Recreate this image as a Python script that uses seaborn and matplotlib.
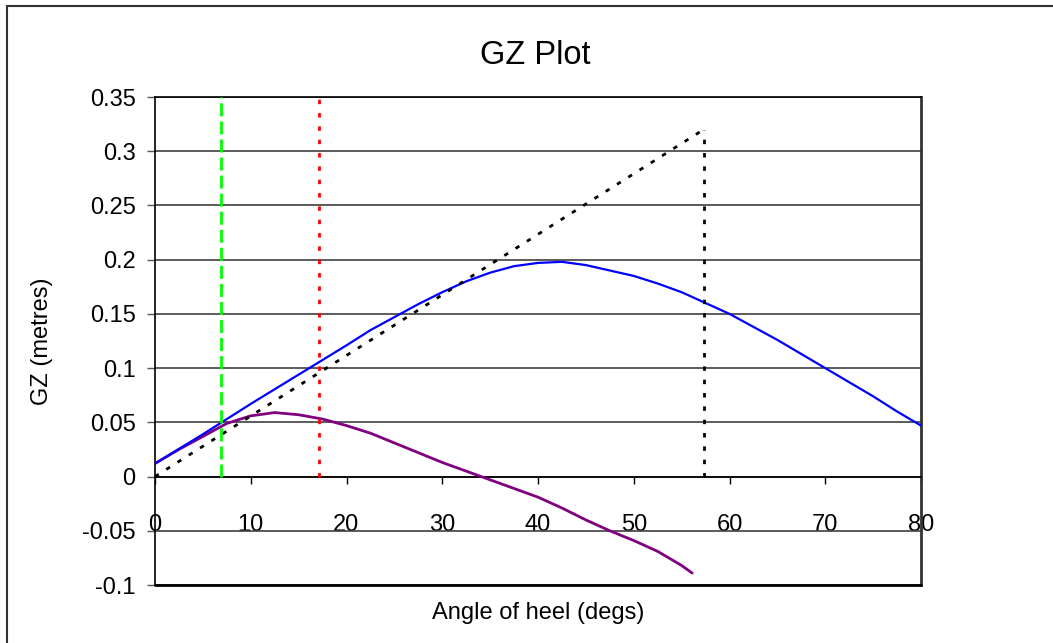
import numpy as np
import pandas as pd
import matplotlib
matplotlib.use("Agg")
import matplotlib.pyplot as plt
from matplotlib.patches import Rectangle
import seaborn as sns

sns.set_theme(style="white")
plt.rcParams['font.family'] = ['Liberation Sans', 'DejaVu Sans']
plt.rcParams['axes.unicode_minus'] = False
plt.rcParams['text.color'] = 'black'
plt.rcParams['axes.labelcolor'] = 'black'
plt.rcParams['xtick.color'] = 'black'
plt.rcParams['ytick.color'] = 'black'

# GZ curve (blue)
heel_deg = [0, 5, 10, 15, 20, 22.5, 25, 27.5, 30, 32.5, 35, 37.5, 40, 42.5, 45,
            47.5, 50, 52.5, 55, 57.5, 60, 62.5, 65, 67.5, 70, 72.5, 75, 77.5, 80]
gz_upright = [0.012, 0.039, 0.067, 0.094, 0.121, 0.135, 0.147, 0.159, 0.170, 0.180,
              0.188, 0.194, 0.197, 0.198, 0.195, 0.190, 0.185, 0.178, 0.170, 0.160,
              0.150, 0.138, 0.126, 0.113, 0.100, 0.087, 0.074, 0.060, 0.047]

# second GZ curve (purple)
heel_deg_2 = [0, 2.5, 5, 7.5, 10, 12.5, 15, 17.5, 20, 22.5, 25, 27.5, 30, 32.5,
              35, 37.5, 40, 42.5, 45, 47.5, 50, 52.5, 55, 56.1]
gz_second = [0.012, 0.025, 0.037, 0.049, 0.056, 0.059, 0.057, 0.053, 0.047, 0.040,
             0.031, 0.022, 0.013, 0.005, -0.003, -0.011, -0.019, -0.029, -0.040,
             -0.050, -0.059, -0.069, -0.082, -0.089]

# GM line: rises to GM at 1 radian (57.3 deg)
gm_angle = [0, 57.3]
gm_value = [0, 0.32]

angle_green = 6.9
angle_red = 17.1

xticks = [0, 10, 20, 30, 40, 50, 60, 70, 80]
yticks = [-0.1, -0.05, 0, 0.05, 0.1, 0.15, 0.2, 0.25, 0.3, 0.35]
ytick_labels = ['-0.1', '-0.05', '0', '0.05', '0.1', '0.15', '0.2', '0.25', '0.3', '0.35']

W, H = 1053, 643
fig = plt.figure(figsize=(W / 100, H / 100), dpi=100)
ax = fig.add_axes([155 / W, 1 - 585 / H, (921 - 155) / W, (585 - 97) / H])

# outer chart border
fig.patches.append(Rectangle((7 / W, -0.1), 1.2, 1.1 - 6 / H, transform=fig.transFigure,
                             fill=False, edgecolor='#333333', lw=1.5, clip_on=False))

ax.set_xlim(0, 80)
ax.set_ylim(-0.1, 0.35)
ax.set_yticks(yticks)
ax.set_yticklabels(ytick_labels)
ax.set_xticks(xticks)
ax.yaxis.grid(True, color='#404040', lw=1.2)
ax.set_axisbelow(True)

df1 = pd.DataFrame({'angle': heel_deg, 'gz': gz_upright})
df2 = pd.DataFrame({'angle': heel_deg_2, 'gz': gz_second})
sns.lineplot(data=df2, x='angle', y='gz', ax=ax, color='#800080', lw=2.0, zorder=4)
sns.lineplot(data=df1, x='angle', y='gz', ax=ax, color='#0000FF', lw=1.6, zorder=5)

dotted = dict(color='black', lw=2.0, dashes=(1.6, 3.2), zorder=6)
ax.plot(gm_angle, gm_value, **dotted)
ax.plot([gm_angle[1], gm_angle[1]], [0, gm_value[1]], **dotted)
ax.plot([angle_green, angle_green], [0, 0.35], color='#00FF00', lw=2.0,
        dashes=(4.7, 1.8), zorder=6)
ax.plot([angle_red, angle_red], [0, 0.35], color='#FF0000', lw=2.0,
        dashes=(1.6, 3.2), zorder=6)

# axes frame
ax.spines['bottom'].set_position(('data', 0))
ax.spines['bottom'].set_color('black')
ax.spines['bottom'].set_linewidth(1.2)
ax.spines['left'].set_color('black')
ax.spines['left'].set_linewidth(1.2)
ax.spines['top'].set_color('black')
ax.spines['top'].set_linewidth(1.2)
ax.spines['right'].set_color('#333333')
ax.spines['right'].set_linewidth(2.0)
ax.axhline(-0.1, color='black', lw=2.0, clip_on=False, zorder=7)

ax.tick_params(axis='x', direction='out', length=5, width=1, color='black',
               pad=22, labelsize=17, bottom=True)
ax.tick_params(axis='y', direction='out', length=6, width=1, color='#555555',
               pad=8, labelsize=17, left=True)

ax.set_xlabel('Angle of heel (degs)', fontsize=17)
ax.set_ylabel('GZ (metres)', fontsize=17)
ax.xaxis.set_label_coords(0.5, -(613 - 585) / 488)
ax.xaxis.label.set_va('center')
ax.yaxis.set_label_coords(-(155 - 42) / 766, 0.5)
ax.yaxis.label.set_va('center')

fig.text(535 / W, 1 - 55 / H, 'GZ Plot', ha='center', va='center', fontsize=23.5)

fig.savefig('out.png', dpi=100)
